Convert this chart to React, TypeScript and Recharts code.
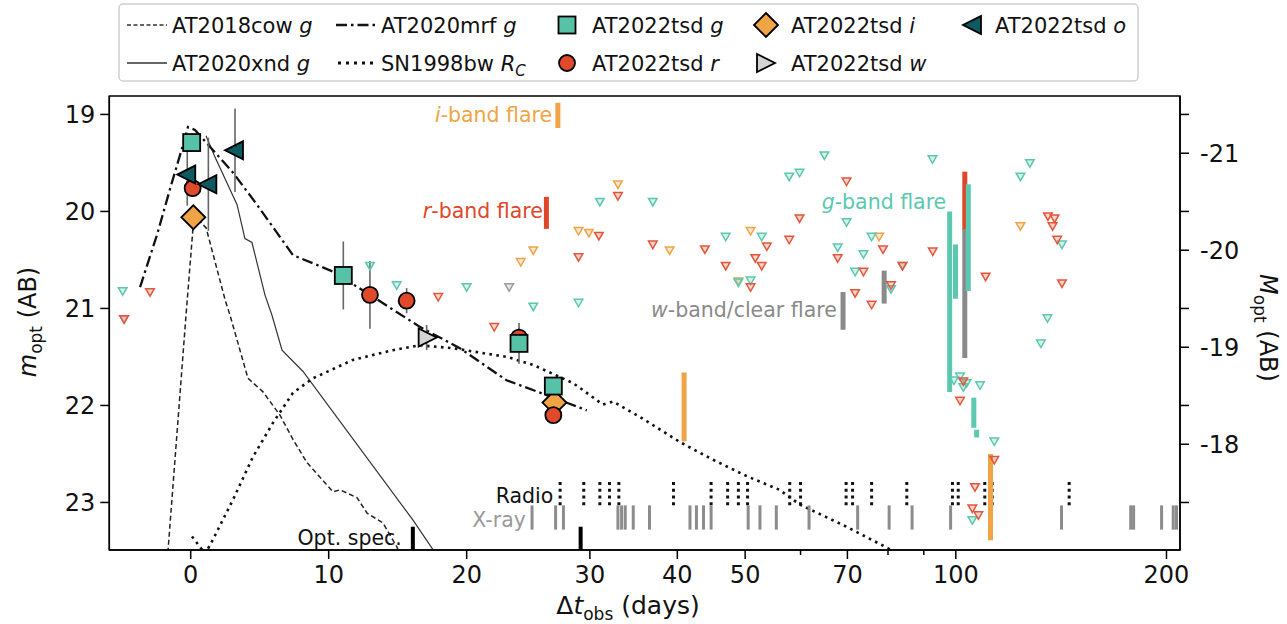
import React from "react";
import {
  ComposedChart,
  Line,
  Scatter,
  XAxis,
  YAxis,
  ErrorBar,
  ReferenceLine,
  ReferenceDot,
  ReferenceArea,
} from "recharts";

// x axis is linear up to 20 days and logarithmic after that
const BREAK = 20;
const PER_DECADE = 50.72;
const toU = (t: number) => (t <= BREAK ? t : BREAK + PER_DECADE * Math.log10(t / BREAK));
const fromU = (u: number) => (u <= BREAK ? u : BREAK * Math.pow(10, (u - BREAK) / PER_DECADE));

const X_MAJOR = [0, 10, 20, 30, 40, 50, 70, 100, 200];
const X_MINOR = [60, 80, 90];
const Y_TICKS = [19, 20, 21, 22, 23];
const ABS_TICKS = [-21, -20, -19, -18];
const DIST_MOD = 40.4;
const X_DOMAIN: [number, number] = [-5.9, 71.7];
const Y_DOMAIN: [number, number] = [18.81, 23.49];

// comparison light curves [days, mag]
const AT2018COW_G: number[][] = [
  [-1.7, 23.6], [-0.34, 21.07], [0.24, 20.04], [1.12, 20.17], [2.49, 20.91], [2.85, 21.07],
  [4.15, 21.72], [5.24, 21.86], [6.47, 22.1], [7.41, 22.35], [8.43, 22.59], [9.37, 22.74],
  [10.31, 22.89], [10.82, 22.87], [12.05, 22.95], [12.78, 23.11], [13.93, 23.21], [14.95, 23.46],
  [15.3, 23.6],
];
const AT2020XND_G: number[][] = [
  [1.11, 19.22], [1.76, 19.44], [3.36, 19.93], [3.93, 20.28], [4.44, 20.32], [5.38, 20.86],
  [5.89, 21.07], [6.62, 21.43], [8.14, 21.65], [16.1, 23.18], [18.1, 23.6],
];
const AT2020MRF_G: number[][] = [
  [-3.67, 20.78], [-2.44, 20.24], [-1.36, 19.7], [-0.63, 19.35], [-0.2, 19.13], [0.31, 19.16],
  [3.07, 19.6], [4.8, 19.93], [7.41, 20.45], [10.31, 20.62], [13.21, 20.88], [16.61, 21.19],
  [19.51, 21.41], [22.8, 21.74], [25.5, 21.87], [29.7, 22.05],
];
const SN1998BW_RC: number[][] = [
  [0.09, 23.35], [1.05, 23.53], [1.62, 23.38], [3.07, 22.97], [4.51, 22.53], [5.96, 22.18],
  [7.41, 21.87], [8.86, 21.72], [11.76, 21.53], [14.66, 21.43], [16.61, 21.38], [19.0, 21.41],
  [22.84, 21.5], [24.86, 21.58], [28.4, 21.77], [31.3, 21.99], [32.4, 21.96], [35.4, 22.12],
  [40.4, 22.38], [45.0, 22.56], [50.3, 22.73], [56.0, 22.87], [59.8, 23.02], [69.8, 23.25],
  [79.9, 23.47], [82, 23.52],
];

// AT2022tsd detections [days, mag, error]
const TSD_G: number[][] = [[0.07, 19.29, 0], [11.06, 20.66, 0.35], [23.76, 21.36, 0.21], [26.6, 21.8, 0]];
const TSD_R: number[][] = [[0.14, 19.76, 0], [12.99, 20.86, 0.35], [15.65, 20.92, 0.13], [23.76, 21.3, 0.1], [26.6, 22.1, 0]];
const TSD_I: number[][] = [[0.19, 20.06, 0], [26.7, 21.97, 0]];
const TSD_W: number[][] = [[17.1, 21.3, 0.13]];
const TSD_O: number[][] = [[-0.25, 19.62, 0.32], [1.28, 19.72, 0.48], [3.21, 19.37, 0.43]];

// upper limits [days, mag]
const LIM_G: number[][] = [
  [-4.93, 20.82], [12.99, 20.56], [14.93, 20.76], [20.0, 20.78], [24.9, 20.98], [28.9, 20.94],
  [31.0, 19.9], [36.9, 19.9], [46.9, 20.26], [48.9, 20.73], [50.9, 20.71], [52.8, 20.26],
  [57.8, 19.64], [59.8, 19.6], [64.9, 19.42], [69.8, 20.11], [75.8, 20.26], [67.8, 20.37],
  [73.8, 20.44], [71.8, 20.62], [83.9, 20.56], [80.8, 20.8], [92.6, 19.46], [127.6, 19.5],
  [123.7, 19.64], [141.8, 20.34], [135.2, 21.1], [132.3, 21.36], [99.4, 21.74], [101.4, 21.7],
  [102.5, 21.81], [103.6, 21.77], [108.3, 21.79], [113.5, 22.37], [105.6, 23.18],
];
const LIM_I: number[][] = [
  [23.9, 20.52], [24.9, 20.4], [28.9, 20.2], [29.9, 20.22], [32.9, 19.72], [39.0, 20.4],
  [50.9, 20.2], [48.9, 20.72], [77.7, 20.26], [123.7, 20.15],
];
const LIM_R: number[][] = [
  [-2.95, 20.83], [-4.83, 21.11], [17.94, 20.88], [21.9, 21.19], [28.9, 20.47], [30.9, 20.25],
  [32.9, 19.84], [36.9, 20.34], [43.8, 20.39], [53.7, 20.36], [46.9, 20.56], [51.7, 20.48],
  [52.8, 20.56], [50.9, 20.78], [57.8, 20.29], [59.8, 20.07], [69.8, 19.69], [67.8, 20.48],
  [78.7, 20.39], [73.8, 20.62], [83.9, 20.56], [80.8, 20.76], [71.8, 20.84], [75.8, 20.96],
  [92.7, 20.41], [110.3, 20.67], [135.4, 20.05], [138.4, 20.07], [137.5, 20.15], [139.6, 20.29],
  [141.8, 20.74], [102.5, 21.75], [101.4, 21.95], [113.5, 22.56], [106.5, 22.84], [105.6, 23.06],
  [107.7, 23.13],
];
const LIM_W: number[][] = [[-4.83, 21.11], [23.0, 20.78]];

// flares: band, day, bright end, faint end
const FLARES: { band: string; t: number; m1: number; m2: number }[] = [
  { band: "i", t: 27.0, m1: 18.88, m2: 19.14 },
  { band: "r", t: 26.0, m1: 19.85, m2: 20.18 },
  { band: "i", t: 40.9, m1: 21.66, m2: 22.37 },
  { band: "w", t: 69.0, m1: 20.83, m2: 21.22 },
  { band: "w", t: 79.0, m1: 20.61, m2: 20.95 },
  { band: "g", t: 98.0, m1: 20.0, m2: 21.86 },
  { band: "g", t: 99.9, m1: 20.34, m2: 20.9 },
  { band: "r", t: 103.0, m1: 19.59, m2: 20.19 },
  { band: "w", t: 103.0, m1: 20.18, m2: 21.51 },
  { band: "g", t: 104.2, m1: 19.72, m2: 20.82 },
  { band: "g", t: 106.1, m1: 21.92, m2: 22.23 },
  { band: "g", t: 107.1, m1: 22.25, m2: 22.33 },
  { band: "i", t: 112.1, m1: 22.5, m2: 23.39 },
];

const RADIO_T = [27.2, 29.4, 31.0, 32.0, 33.0, 39.5, 44.7, 47.2, 48.9, 50.4, 57.9, 60.0, 69.7, 71.2, 75.8, 85.1, 98.9, 100.8, 110.0, 112.7, 145.2];
const XRAY_T = [24.8, 26.8, 27.5, 32.9, 33.3, 33.7, 34.6, 36.5, 41.7, 42.6, 43.6, 44.7, 50.5, 52.5, 55.4, 61.7, 72.4, 80.3, 86.6, 98.3, 141.6, 177.8, 179.5, 196.8, 204.5, 206.7];
const SPEC_T = [16.1, 29.1];

const RADIO_BAND = [22.79, 23.04];
const XRAY_BAND = [23.03, 23.28];
const SPEC_BAND = [23.25, 23.49];

const FONT = "DejaVu Sans, sans-serif";
const COL = { g: "#56c3a9", r: "#df4a2b", i: "#f0a446", w: "#d4d4d4", o: "#0e5a60" };
const LIM_COL = { g: "#5cc8b0", r: "#e4563b", i: "#f0a446", w: "#9a9a9a" };
const FLARE_COL: Record<string, string> = { g: "#5cc8b0", r: "#e0462a", i: "#f0a446", w: "#8a8a8a" };

const NOTES = [
  { key: "i", t: 26.5, m: 19.01, color: "#f0a446", it: "i", rest: "-band flare" },
  { key: "r", t: 25.7, m: 20.0, color: "#e0462a", it: "r", rest: "-band flare" },
  { key: "g", t: 96.9, m: 19.9, color: "#5cc8b0", it: "g", rest: "-band flare" },
  { key: "w", t: 67.6, m: 21.02, color: "#8a8a8a", it: "w", rest: "-band/clear flare" },
  { key: "radio", t: 26.6, m: 22.93, color: "#111", it: "", rest: "Radio" },
  { key: "xray", t: 24.3, m: 23.18, color: "#9a9a9a", it: "", rest: "X-ray" },
  { key: "spec", t: 15.3, m: 23.37, color: "#111", it: "", rest: "Opt. spec." },
];

const pts = (arr: number[][]) => arr.map(([t, m, e]) => ({ u: toU(t), m, e: e ?? 0 }));

const limShape = (color: string) => (p: any) => (
  <polygon
    points={`${p.cx - 4.3},${p.cy - 3.3} ${p.cx + 4.3},${p.cy - 3.3} ${p.cx},${p.cy + 4.2}`}
    fill={color}
    fillOpacity={0.25}
    stroke={color}
    strokeWidth={1.5}
  />
);

const Square = ({ cx, cy }: any) => (
  <rect x={cx - 8.5} y={cy - 8.5} width={17} height={17} fill={COL.g} stroke="#000" strokeWidth={1.8} />
);
const Circle = ({ cx, cy }: any) => <circle cx={cx} cy={cy} r={8} fill={COL.r} stroke="#000" strokeWidth={1.8} />;
const Diamond = ({ cx, cy }: any) => (
  <polygon points={`${cx},${cy - 12} ${cx + 12},${cy} ${cx},${cy + 12} ${cx - 12},${cy}`} fill={COL.i} stroke="#000" strokeWidth={1.8} />
);
const TriRight = ({ cx, cy }: any) => (
  <polygon points={`${cx - 8},${cy - 9} ${cx - 8},${cy + 9} ${cx + 10},${cy}`} fill={COL.w} stroke="#000" strokeWidth={1.8} />
);
const TriLeft = ({ cx, cy }: any) => (
  <polygon points={`${cx + 8},${cy - 9} ${cx + 8},${cy + 9} ${cx - 10},${cy}`} fill={COL.o} stroke="#000" strokeWidth={1.8} />
);

const XTick = (p: any) => {
  const { x, y, payload } = p;
  const t = Math.round(fromU(payload.value));
  const major = X_MAJOR.includes(t);
  return (
    <g>
      <line x1={x} x2={x} y1={y} y2={y + (major ? 9 : 5)} stroke="#000" strokeWidth={1.5} />
      {major && (
        <text x={x} y={y + 33} textAnchor="middle" fontFamily={FONT} fontSize={24} fill="#111">
          {t}
        </text>
      )}
    </g>
  );
};

const YTick = (p: any) => {
  const { x, y, payload } = p;
  return (
    <g>
      <line x1={x} x2={x - 9} y1={y} y2={y} stroke="#000" strokeWidth={1.5} />
      <text x={x - 14} y={y + 8.5} textAnchor="end" fontFamily={FONT} fontSize={24} fill="#111">
        {payload.value}
      </text>
    </g>
  );
};

const MTick = (p: any) => {
  const { x, y, payload } = p;
  const v = payload.value;
  const labelled = Math.abs(v - Math.round(v)) < 1e-6;
  return (
    <g>
      <line x1={x} x2={x + 9} y1={y} y2={y} stroke="#000" strokeWidth={1.5} />
      {labelled && (
        <text x={x + 20} y={y + 8.5} textAnchor="start" fontFamily={FONT} fontSize={24} fill="#111">
          {`-${Math.abs(Math.round(v))}`}
        </text>
      )}
    </g>
  );
};

function LegendBox() {
  const txt = (x: number, y: number, name: string, band: string, sub?: string) => (
    <text x={x} y={y} fontFamily={FONT} fontSize={21} fill="#111">
      {name}
      <tspan fontStyle="italic">{band}</tspan>
      {sub && (
        <tspan fontStyle="italic" fontSize={15} dy={5}>
          {sub}
        </tspan>
      )}
    </text>
  );
  const r1 = 25;
  const r2 = 63;
  return (
    <g>
      <rect x={119} y={4} width={1019} height={77} rx={4} fill="#fff" fillOpacity={0.8} stroke="#cfcfcf" strokeWidth={1.5} />
      <line x1={127} x2={167} y1={r1} y2={r1} stroke="#333" strokeWidth={1.4} strokeDasharray="4 2.5" />
      {txt(172, 33, "AT2018cow ", "g")}
      <line x1={127} x2={167} y1={r2} y2={r2} stroke="#333" strokeWidth={1.3} />
      {txt(172, 71, "AT2020xnd ", "g")}
      <line x1={336} x2={378} y1={r1} y2={r1} stroke="#111" strokeWidth={2.6} strokeDasharray="11 4 2.5 4" />
      {txt(381, 33, "AT2020mrf ", "g")}
      <line x1={338} x2={376} y1={r2} y2={r2} stroke="#111" strokeWidth={3} strokeDasharray="3 5" />
      {txt(381, 71, "SN1998bw ", "R", "C")}
      <Square cx={567} cy={r1} />
      {txt(592, 33, "AT2022tsd ", "g")}
      <Circle cx={567} cy={r2} />
      {txt(592, 71, "AT2022tsd ", "r")}
      <Diamond cx={766} cy={r1} />
      {txt(791, 33, "AT2022tsd ", "i")}
      <TriRight cx={765} cy={r2} />
      {txt(791, 71, "AT2022tsd ", "w")}
      <TriLeft cx={973} cy={r1} />
      {txt(995, 33, "AT2022tsd ", "o")}
    </g>
  );
}

export default function App() {
  const xTicks = [...X_MAJOR, ...X_MINOR].map(toU);
  const mTicks = [...ABS_TICKS, ...Y_TICKS.map((m) => m - DIST_MOD)];
  const lineProps = { yAxisId: "m", dataKey: "m", dot: false, activeDot: false, isAnimationActive: false, type: "linear" as const };

  return (
    <div style={{ position: "relative", width: 1287, height: 624, background: "#fff" }}>
      <style>{`body{margin:0}`}</style>
      <ComposedChart width={1287} height={624} margin={{ top: 96, right: 47, bottom: 24, left: 49.3 }}>
        <XAxis
          type="number"
          dataKey="u"
          domain={X_DOMAIN}
          allowDataOverflow
          ticks={xTicks}
          interval={0}
          tick={XTick}
          tickLine={false}
          tickSize={0}
          tickMargin={0}
          height={50}
          axisLine={{ stroke: "#000", strokeWidth: 1.5 }}
        />
        <YAxis
          yAxisId="m"
          type="number"
          dataKey="m"
          domain={Y_DOMAIN}
          reversed
          allowDataOverflow
          ticks={Y_TICKS}
          interval={0}
          tick={YTick}
          tickLine={false}
          tickSize={0}
          tickMargin={0}
          width={60}
          axisLine={{ stroke: "#000", strokeWidth: 1.5 }}
        />
        <YAxis
          yAxisId="M"
          orientation="right"
          type="number"
          domain={[Y_DOMAIN[0] - DIST_MOD, Y_DOMAIN[1] - DIST_MOD]}
          reversed
          allowDataOverflow
          ticks={mTicks}
          interval={0}
          tick={MTick}
          tickLine={false}
          tickSize={0}
          tickMargin={0}
          width={60}
          axisLine={{ stroke: "#000", strokeWidth: 1.5 }}
        />

        <Line {...lineProps} data={pts(AT2018COW_G)} stroke="#222" strokeWidth={1.5} strokeDasharray="5 3" />
        <Line {...lineProps} data={pts(AT2020XND_G)} stroke="#333" strokeWidth={1.2} />
        <Line {...lineProps} data={pts(AT2020MRF_G)} stroke="#111" strokeWidth={2.3} strokeDasharray="11 4 2.5 4" />
        <Line {...lineProps} data={pts(SN1998BW_RC)} stroke="#111" strokeWidth={2.6} strokeDasharray="2.6 4.4" />

        {RADIO_T.map((t, i) => (
          <ReferenceLine
            key={`ra${i}`}
            yAxisId="m"
            segment={[{ x: toU(t), y: RADIO_BAND[0] }, { x: toU(t), y: RADIO_BAND[1] }]}
            stroke="#111"
            strokeWidth={3}
            strokeDasharray="3 3.7"
            ifOverflow="visible"
          />
        ))}
        {XRAY_T.map((t, i) => (
          <ReferenceLine
            key={`xr${i}`}
            yAxisId="m"
            segment={[{ x: toU(t), y: XRAY_BAND[0] }, { x: toU(t), y: XRAY_BAND[1] }]}
            stroke="#8c8c8c"
            strokeWidth={3}
            ifOverflow="visible"
          />
        ))}
        {SPEC_T.map((t, i) => (
          <ReferenceLine
            key={`sp${i}`}
            yAxisId="m"
            segment={[{ x: toU(t), y: SPEC_BAND[0] }, { x: toU(t), y: SPEC_BAND[1] }]}
            stroke="#000"
            strokeWidth={4}
            ifOverflow="visible"
          />
        ))}

        <Scatter yAxisId="m" data={pts(LIM_W)} dataKey="m" shape={limShape(LIM_COL.w)} isAnimationActive={false} />
        <Scatter yAxisId="m" data={pts(LIM_I)} dataKey="m" shape={limShape(LIM_COL.i)} isAnimationActive={false} />
        <Scatter yAxisId="m" data={pts(LIM_G)} dataKey="m" shape={limShape(LIM_COL.g)} isAnimationActive={false} />
        <Scatter yAxisId="m" data={pts(LIM_R)} dataKey="m" shape={limShape(LIM_COL.r)} isAnimationActive={false} />

        {FLARES.map((f, i) => (
          <ReferenceLine
            key={`fl${i}`}
            yAxisId="m"
            segment={[{ x: toU(f.t), y: f.m1 }, { x: toU(f.t), y: f.m2 }]}
            stroke={FLARE_COL[f.band]}
            strokeWidth={5}
            ifOverflow="visible"
          />
        ))}

        <Scatter yAxisId="m" data={pts(TSD_I)} dataKey="m" shape={Diamond} isAnimationActive={false}>
          <ErrorBar dataKey="e" direction="y" width={0} stroke="#666" strokeWidth={1.6} />
        </Scatter>
        <Scatter yAxisId="m" data={pts(TSD_R)} dataKey="m" shape={Circle} isAnimationActive={false}>
          <ErrorBar dataKey="e" direction="y" width={0} stroke="#666" strokeWidth={1.6} />
        </Scatter>
        <Scatter yAxisId="m" data={pts(TSD_G)} dataKey="m" shape={Square} isAnimationActive={false}>
          <ErrorBar dataKey="e" direction="y" width={0} stroke="#666" strokeWidth={1.6} />
        </Scatter>
        <Scatter yAxisId="m" data={pts(TSD_W)} dataKey="m" shape={TriRight} isAnimationActive={false}>
          <ErrorBar dataKey="e" direction="y" width={0} stroke="#666" strokeWidth={1.6} />
        </Scatter>
        <Scatter yAxisId="m" data={pts(TSD_O)} dataKey="m" shape={TriLeft} isAnimationActive={false}>
          <ErrorBar dataKey="e" direction="y" width={0} stroke="#666" strokeWidth={1.6} />
        </Scatter>

        {NOTES.map((n) => (
          <ReferenceDot
            key={n.key}
            yAxisId="m"
            x={toU(n.t)}
            y={n.m}
            r={1}
            ifOverflow="visible"
            shape={(p: any) => (
              <text x={p.cx} y={p.cy + 7} textAnchor="end" fontFamily={FONT} fontSize={20.5} fill={n.color}>
                {n.it && <tspan fontStyle="italic">{n.it}</tspan>}
                {n.rest}
              </text>
            )}
          />
        ))}

        <ReferenceArea
          yAxisId="m"
          x1={X_DOMAIN[0]}
          x2={X_DOMAIN[1]}
          y1={Y_DOMAIN[0]}
          y2={Y_DOMAIN[1]}
          fill="none"
          stroke="#000"
          strokeWidth={1.5}
          ifOverflow="visible"
        />
      </ComposedChart>

      <svg width={1287} height={624} style={{ position: "absolute", left: 0, top: 0, pointerEvents: "none" }}>
        <LegendBox />
        <text transform="translate(36,322) rotate(-90)" textAnchor="middle" fontFamily={FONT} fontSize={24} fill="#111">
          <tspan fontStyle="italic">m</tspan>
          <tspan fontSize={17} dy={6}>opt</tspan>
          <tspan dy={-6}> (AB)</tspan>
        </text>
        <text transform="translate(1260,328) rotate(90)" textAnchor="middle" fontFamily={FONT} fontSize={24} fill="#111">
          <tspan fontStyle="italic">M</tspan>
          <tspan fontSize={17} dy={6}>opt</tspan>
          <tspan dy={-6}> (AB)</tspan>
        </text>
        <text x={628} y={614} textAnchor="middle" fontFamily={FONT} fontSize={25} fill="#111">
          Δ<tspan fontStyle="italic">t</tspan>
          <tspan fontSize={17} dy={6}>obs</tspan>
          <tspan dy={-6}> (days)</tspan>
        </text>
      </svg>
    </div>
  );
}
